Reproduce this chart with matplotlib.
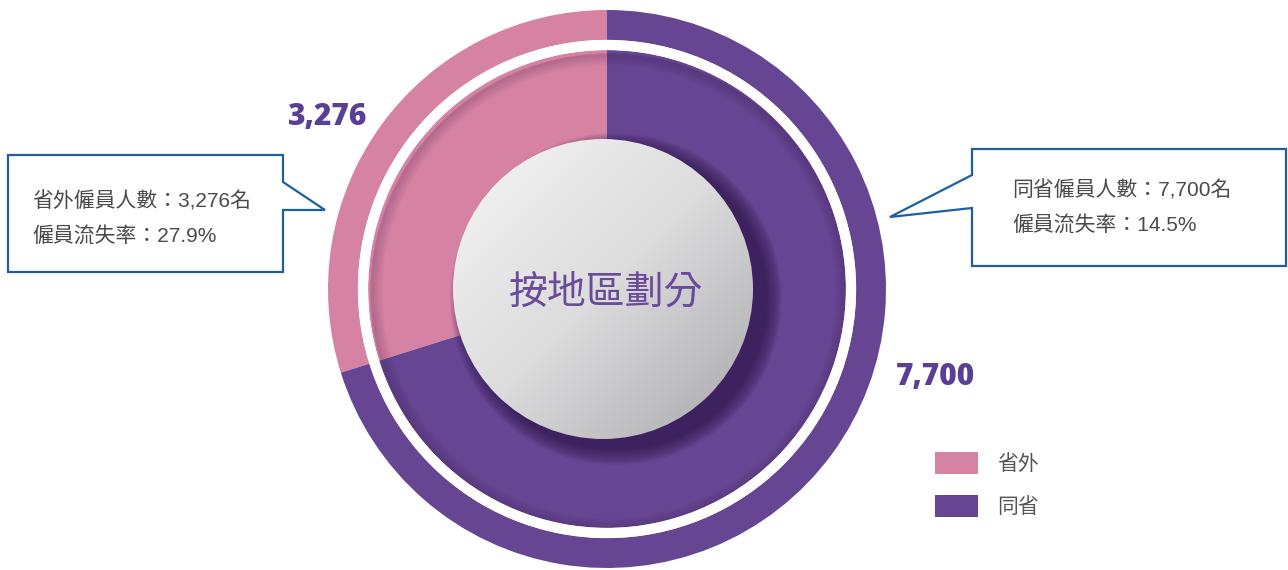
import numpy as np
import matplotlib
matplotlib.use("Agg")
import matplotlib.pyplot as plt
from matplotlib.patches import Circle, Polygon

# data
regions = ["省外", "同省"]
headcount = [3276, 7700]
turnover = ["27.9%", "14.5%"]
colors = ["#d682a3", "#664592"]
center_title = "按地區劃分"

W, H = 1288, 570
CJK = ["Liberation Sans", "Noto Sans CJK TC", "DejaVu Sans"]


def py(y):
    # pixel row -> data y
    return H - y


fig = plt.figure(figsize=(W / 100, H / 100), dpi=100)
ax = fig.add_axes([0, 0, 1, 1])

cx, cy = 607, py(289)

# outer ring + inner pie
wedges, _ = ax.pie(headcount, radius=279, center=(cx, cy), startangle=90,
                   colors=colors, wedgeprops=dict(width=30, linewidth=0))
ax.pie(headcount, radius=239, center=(cx, cy), startangle=90,
       colors=colors, wedgeprops=dict(width=239, linewidth=0))
ax.set_xlim(0, W)
ax.set_ylim(0, H)
ax.set_aspect("equal")
ax.axis("off")

# soft shadow just inside the white gap
for i in range(12):
    ax.add_patch(Circle((cx + 2, cy - 3), 238 - i, fill=False, lw=1.2,
                        ec=(0.15, 0.05, 0.2, 0.13 * (1 - i / 12)), zorder=3))
ax.add_patch(Circle((cx, cy), 244, fill=False, lw=7.4, ec="white", zorder=3))

# drop shadow of the centre disc
for i in range(16):
    ax.add_patch(Circle((cx + 9, cy - 10), 150 + 16 - i, fc=(0.18, 0.08, 0.28, 0.06),
                        ec="none", zorder=4))

# centre disc with a diagonal grey gradient
dcx = cx - 4
disc = Circle((dcx, cy), 150, fc="none", ec="none", zorder=5)
ax.add_patch(disc)
g = np.linspace(0, 1, 256)
gx, gy = np.meshgrid(g, g)
grad = (gx + gy) / 2
img = ax.imshow(grad, cmap=matplotlib.colors.LinearSegmentedColormap.from_list(
    "g", ["#f6f6f7", "#dcdcdd", "#a8a8ac"]),
    extent=(dcx - 150, dcx + 150, cy - 150, cy + 150), origin="upper",
    zorder=5, interpolation="bicubic")
img.set_clip_path(disc)
ax.text(dcx + 3, cy - 4, center_title, ha="center", va="center", fontsize=28,
        fontweight=500, color="#6a4a9a", family=["Noto Sans CJK TC"], zorder=6)

# value labels
ax.text(328, py(117), f"{headcount[0]:,}", ha="center", va="center",
        fontsize=21.5, fontweight="heavy", color="#5b3f94", family="Open Sans")
ax.text(936, py(377), f"{headcount[1]:,}", ha="center", va="center",
        fontsize=21.5, fontweight="heavy", color="#5b3f94", family="Open Sans")

# callouts
box_ec = "#1f5fa0"
left = [(8, 155), (283, 155), (283, 182), (325, 210), (283, 210), (283, 272), (8, 272)]
right = [(972, 149), (1286, 149), (1286, 266), (972, 266), (972, 208), (890, 217), (972, 175)]
for pts in (left, right):
    ax.add_patch(Polygon([(x, py(y)) for x, y in pts], closed=True, fc="white",
                         ec=box_ec, lw=1.6, zorder=7))

txt = dict(ha="left", va="center", fontsize=15, color="#4a4a4a", family=CJK, zorder=8)
ax.text(32, py(201), f"{regions[0]}僱員人數：{headcount[0]:,}名", **txt)
ax.text(32, py(237), f"僱員流失率：{turnover[0]}", **txt)
ax.text(1012, py(190), f"{regions[1]}僱員人數：{headcount[1]:,}名", **txt)
ax.text(1012, py(226), f"僱員流失率：{turnover[1]}", **txt)

# legend
leg = ax.legend(wedges, regions, loc="upper left", bbox_to_anchor=(935, py(452)),
                bbox_transform=ax.transData, frameon=False, borderpad=0,
                borderaxespad=0, handlelength=2.07, handleheight=1.25,
                labelspacing=0.95, handletextpad=0.9,
                prop=dict(family=["Noto Sans CJK TC"], size=15))
for t in leg.get_texts():
    t.set_color("#555555")

fig.savefig("out.png", dpi=100)
